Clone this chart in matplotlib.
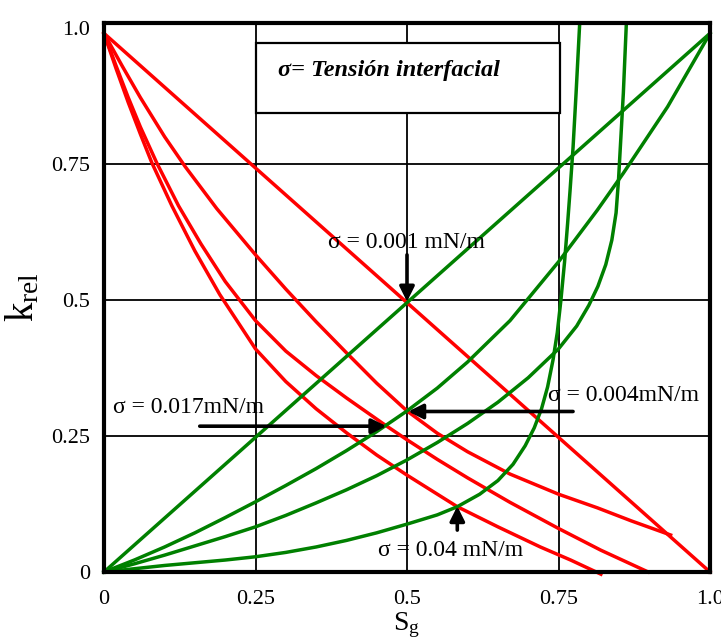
import matplotlib
matplotlib.use('Agg')
import matplotlib.pyplot as plt

# ---------------- data ----------------
# Red curves: liquid relative permeability (decreasing)
red_001_x = [0.0, 1.0]
red_001_y = [0.99, 0.0]

red_004_x = [0.0, 0.03, 0.06, 0.1, 0.134, 0.186, 0.25, 0.3, 0.35, 0.4, 0.45, 0.5,
             0.55, 0.6, 0.67, 0.75, 0.814, 0.87, 0.935]
red_004_y = [0.99, 0.93, 0.872, 0.8, 0.745, 0.668, 0.583, 0.52, 0.46, 0.403, 0.347, 0.296,
             0.255, 0.221, 0.18, 0.143, 0.118, 0.094, 0.068]

red_017_x = [0.0, 0.02, 0.04, 0.06, 0.087, 0.123, 0.16, 0.2, 0.25, 0.3, 0.35, 0.4, 0.464,
             0.5, 0.55, 0.6, 0.67, 0.75, 0.82, 0.898]
red_017_y = [0.99, 0.93, 0.872, 0.818, 0.752, 0.673, 0.603, 0.534, 0.462, 0.406, 0.361, 0.32, 0.27,
             0.243, 0.207, 0.173, 0.128, 0.08, 0.04, 0.0]

red_04_x = [0.0, 0.02, 0.04, 0.06, 0.079, 0.112, 0.15, 0.191, 0.25, 0.3, 0.35, 0.4, 0.45,
            0.5, 0.583, 0.65, 0.72, 0.77, 0.82]
red_04_y = [0.99, 0.925, 0.863, 0.805, 0.752, 0.673, 0.59, 0.51, 0.41, 0.35, 0.3, 0.256, 0.215,
            0.178, 0.12, 0.083, 0.046, 0.022, -0.004]

# Green curves: gas relative permeability (increasing)
green_001_x = [0.0, 1.0]
green_001_y = [0.0, 0.99]

green_004_x = [0.0, 0.05, 0.1, 0.15, 0.2, 0.25, 0.3, 0.35, 0.4, 0.45, 0.5, 0.55, 0.6,
               0.67, 0.75, 0.814, 0.857, 0.93, 1.0]
green_004_y = [0.0, 0.022, 0.046, 0.072, 0.1, 0.129, 0.159, 0.19, 0.223, 0.258, 0.296, 0.338, 0.386,
               0.462, 0.57, 0.665, 0.733, 0.855, 0.99]

green_017_x = [0.0, 0.05, 0.1, 0.15, 0.2, 0.25, 0.3, 0.35, 0.4, 0.45, 0.5, 0.55, 0.6, 0.65,
               0.7, 0.75, 0.78, 0.8, 0.815, 0.828, 0.838, 0.845, 0.849, 0.853, 0.857, 0.862]
green_017_y = [0.0, 0.015, 0.031, 0.048, 0.065, 0.083, 0.104, 0.127, 0.151, 0.177, 0.206, 0.238,
               0.273, 0.312, 0.357, 0.41, 0.452, 0.49, 0.525, 0.565, 0.61, 0.66, 0.72, 0.8, 0.88, 1.009]

green_04_x = [0.0, 0.1, 0.2, 0.25, 0.3, 0.35, 0.4, 0.45, 0.5, 0.55, 0.583, 0.62, 0.65, 0.675,
              0.695, 0.71, 0.722, 0.732, 0.741, 0.748, 0.754, 0.76, 0.765, 0.769, 0.774, 0.779, 0.785]
green_04_y = [0.0, 0.012, 0.022, 0.028, 0.036, 0.046, 0.058, 0.072, 0.088, 0.105, 0.12, 0.143, 0.168,
              0.198, 0.232, 0.265, 0.3, 0.34, 0.39, 0.44, 0.5, 0.57, 0.64, 0.7, 0.78, 0.88, 1.009]

tick_values = [0, 0.25, 0.5, 0.75, 1.0]
tick_labels = ['0', '0.25', '0.5', '0.75', '1.0']

labels = ['σ = 0.001 mN/m', 'σ = 0.017mN/m', 'σ = 0.004mN/m', 'σ = 0.04 mN/m']
title_text = 'σ= Tensión interfacial'

# ---------------- style ----------------
plt.rcParams['font.family'] = ['Liberation Serif', 'DejaVu Serif']
plt.rcParams['mathtext.fontset'] = 'custom'
plt.rcParams['mathtext.rm'] = 'Liberation Serif'
plt.rcParams['mathtext.it'] = 'Liberation Serif:italic'

RED = '#ff0000'
GREEN = '#008000'
LW = 2.5

fig = plt.figure(figsize=(7.21, 6.42), dpi=100)
ax = fig.add_axes([104 / 721, 70 / 642, 606 / 721, 549 / 642])
ax.set_xlim(0, 1.0)
ax.set_ylim(0, 1.009)

# grid lines
for v in [0.25, 0.5, 0.75]:
    ax.axvline(v, color='black', lw=1.3, zorder=1)
    ax.axhline(v, color='black', lw=1.3, zorder=1)

# title box
ax.add_patch(plt.Rectangle((0.251, 0.844), 0.501, 0.128, facecolor='white',
                           edgecolor='black', lw=1.6, zorder=2))
ax.text(0.287, 0.921, title_text, fontsize=17.5, fontweight='bold', fontstyle='italic',
        ha='left', va='center', zorder=3)

# curves
for xs, ys in [(red_001_x, red_001_y), (red_004_x, red_004_y),
               (red_017_x, red_017_y), (red_04_x, red_04_y)]:
    ax.plot(xs, ys, color=RED, lw=LW, zorder=4, solid_joinstyle='round', clip_on=False)
for xs, ys in [(green_001_x, green_001_y), (green_004_x, green_004_y),
               (green_017_x, green_017_y), (green_04_x, green_04_y)]:
    ax.plot(xs, ys, color=GREEN, lw=LW, zorder=4, solid_joinstyle='round', clip_on=False)

# arrows
arrow_kw = dict(arrowstyle='-|>', color='black', lw=2.6, mutation_scale=22,
                shrinkA=0, shrinkB=0)
ax.annotate('', xy=(0.5, 0.497), xytext=(0.5, 0.583), arrowprops=arrow_kw, zorder=6)
ax.annotate('', xy=(0.466, 0.268), xytext=(0.158, 0.268), arrowprops=arrow_kw, zorder=6)
ax.annotate('', xy=(0.502, 0.295), xytext=(0.774, 0.295), arrowprops=arrow_kw, zorder=6)
ax.annotate('', xy=(0.583, 0.121), xytext=(0.583, 0.077), arrowprops=arrow_kw, zorder=6)

# annotations
fs = 17
ax.text(0.37, 0.605, labels[0], fontsize=fs, ha='left', va='center', zorder=7)
ax.text(0.015, 0.303, labels[1], fontsize=fs, ha='left', va='center', zorder=7)
ax.text(0.733, 0.325, labels[2], fontsize=fs, ha='left', va='center', zorder=7)
ax.text(0.452, 0.04, labels[3], fontsize=fs, ha='left', va='center', zorder=7)

# axes
for s in ax.spines.values():
    s.set_linewidth(3)
    s.set_zorder(8)
ax.set_xticks(tick_values)
ax.set_xticklabels(tick_labels)
ax.set_yticks(tick_values)
ax.set_yticklabels(tick_labels)
ax.tick_params(length=0, labelsize=16)
ax.tick_params(axis='x', pad=13)
ax.tick_params(axis='y', pad=10)

ax.set_xlabel(r'$\mathregular{S_g}$', fontsize=20, labelpad=1)
ax.set_ylabel(r'$\mathregular{k_{rel}}$', fontsize=28, labelpad=6)

fig.savefig('out.png', dpi=100)
